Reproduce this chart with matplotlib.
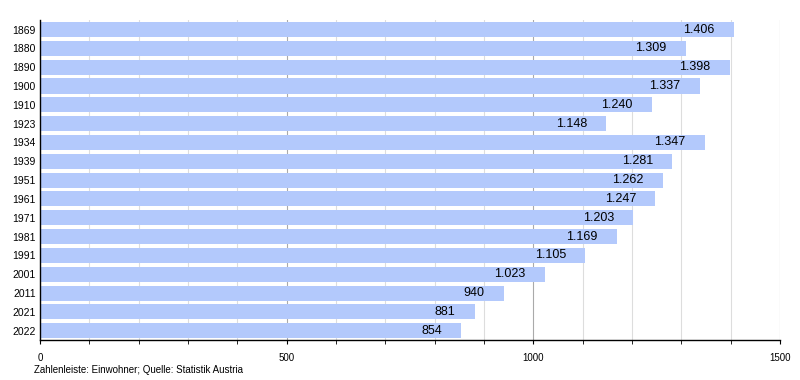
import matplotlib.pyplot as plt
from matplotlib.ticker import MultipleLocator

years = ["1869", "1880", "1890", "1900", "1910", "1923", "1934", "1939", "1951",
         "1961", "1971", "1981", "1991", "2001", "2011", "2021", "2022"]
population = [1406, 1309, 1398, 1337, 1240, 1148, 1347, 1281, 1262,
              1247, 1203, 1169, 1105, 1023, 940, 881, 854]

plt.rcParams["font.family"] = ["Liberation Sans", "DejaVu Sans"]

fig = plt.figure(figsize=(8, 3.8), dpi=100)
ax = fig.add_axes([0.05, 0.105, 0.925, 0.842])

pos = list(range(len(years)))
ax.barh(pos, population, height=0.8, color="#b3c9fc", zorder=2)

# value labels inside the bar end, German thousands separator
for p, v in zip(pos, population):
    label = f"{v:,}".replace(",", ".")
    ax.annotate(label, (v, p), xytext=(-19, 0), textcoords="offset pixels",
                ha="right", va="center", fontsize=9, color="black", zorder=3)

ax.set_yticks(pos)
ax.set_yticklabels(years, fontsize=7.5)
ax.set_ylim(len(years) - 0.5, -0.5)
ax.tick_params(axis="y", length=0, pad=3)

ax.set_xlim(0, 1500)
ax.xaxis.set_major_locator(MultipleLocator(500))
ax.xaxis.set_minor_locator(MultipleLocator(100))
ax.tick_params(axis="x", which="both", length=3, labelsize=7, pad=6)
ax.grid(axis="x", which="minor", color="#dddddd", linewidth=0.8, zorder=0)
ax.grid(axis="x", which="major", color="#aaaaaa", linewidth=0.8, zorder=0)
ax.set_axisbelow(True)

for side in ["top", "right"]:
    ax.spines[side].set_visible(False)
ax.spines["left"].set_linewidth(1.0)
ax.spines["bottom"].set_linewidth(1.0)

fig.text(0.043, 0.018, "Zahlenleiste: Einwohner; Quelle: Statistik Austria", fontsize=7)

fig.savefig("out.png", dpi=100)
